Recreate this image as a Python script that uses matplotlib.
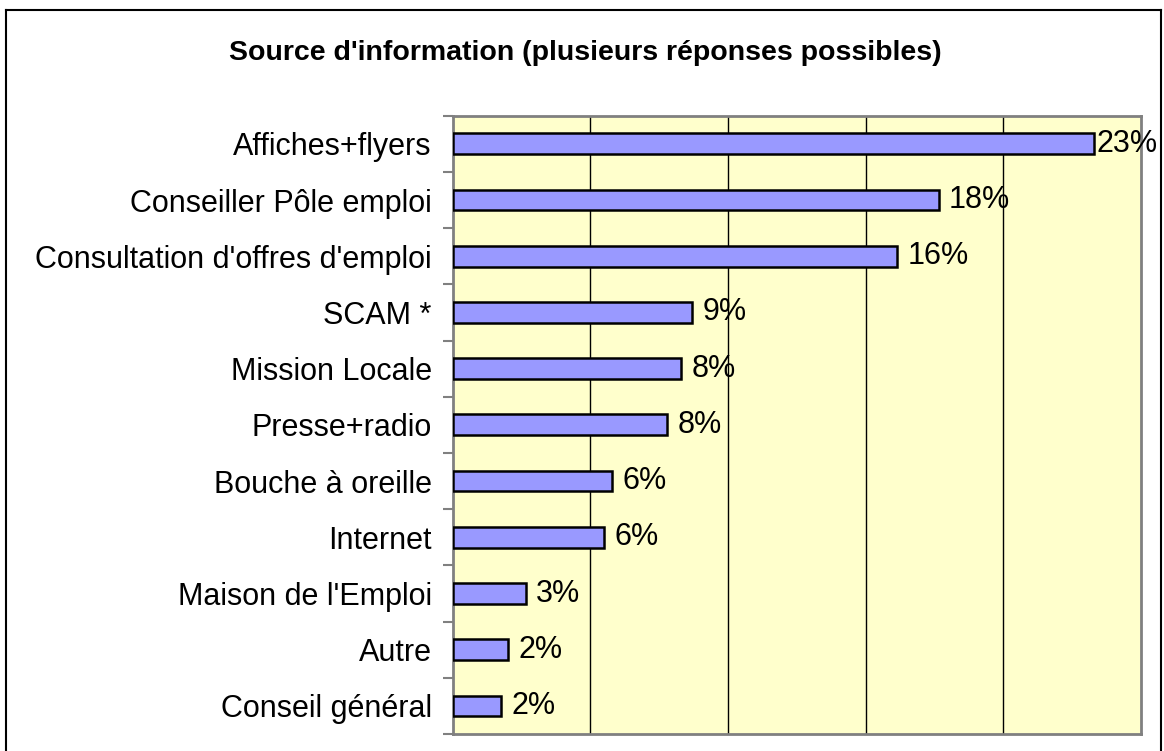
import matplotlib
matplotlib.use("Agg")
import matplotlib.pyplot as plt
from matplotlib.lines import Line2D

plt.rcParams['font.family'] = ['Liberation Sans', 'DejaVu Sans']

categories = [
    "Affiches+flyers",
    "Conseiller Pôle emploi",
    "Consultation d'offres d'emploi",
    "SCAM *",
    "Mission Locale",
    "Presse+radio",
    "Bouche à oreille",
    "Internet",
    "Maison de l'Emploi",
    "Autre",
    "Conseil général",
]
values = [23.3, 17.65, 16.15, 8.7, 8.3, 7.8, 5.8, 5.5, 2.65, 2.0, 1.75]
labels = ["23%", "18%", "16%", "9%", "8%", "8%", "6%", "6%", "3%", "2%", "2%"]

fig = plt.figure(figsize=(11.64, 7.51), dpi=100)
ax = fig.add_axes([0.3888, 0.0226, 0.5914, 0.8233])
ax.set_facecolor('#FFFFCC')

y = list(range(len(categories)))
ax.barh(y, values, height=0.37, color='#9999FF', edgecolor='black', linewidth=1.8, zorder=3)

for yi, v, lab in zip(y, values, labels):
    # the longest bar's label is squeezed against the bar to stay inside the chart
    off = 2 if v > 20 else 7.5
    ax.annotate(lab, (v, yi), xytext=(off, 0), textcoords='offset points',
                va='center', ha='left', fontsize=22, zorder=4)

ax.set_xlim(0, 25)
ax.set_ylim(len(categories) - 0.5, -0.5)
ax.set_xticks([5, 10, 15, 20])
ax.tick_params(axis='x', length=0, labelbottom=False)
ax.xaxis.grid(True, color='black', linewidth=1.0, zorder=1)

ax.set_yticks(y)
ax.set_yticklabels(categories, fontsize=22)
ax.set_yticks([i - 0.5 for i in range(len(categories) + 1)], minor=True)
ax.tick_params(axis='y', which='major', length=0, pad=15)
ax.tick_params(axis='y', which='minor', length=7, width=1.5, color='#808080')

for side in ['left', 'right', 'top', 'bottom']:
    ax.spines[side].set_color('#808080')
    ax.spines[side].set_linewidth(2)

fig.text(0.503, 0.930, "Source d'information (plusieurs réponses possibles)",
         ha='center', va='center', fontsize=20.5, fontweight='bold')

# outer chart border (open at the bottom)
W, H = 1164, 751
fig.add_artist(Line2D([6 / W, 6 / W], [0, 1 - 10 / H], color='black', linewidth=1.5))
fig.add_artist(Line2D([6 / W, 1161 / W], [1 - 10 / H, 1 - 10 / H], color='black', linewidth=1.5))
fig.add_artist(Line2D([1161 / W, 1161 / W], [0, 1 - 10 / H], color='black', linewidth=1.5))

fig.savefig("out.png", dpi=100, facecolor='white')
